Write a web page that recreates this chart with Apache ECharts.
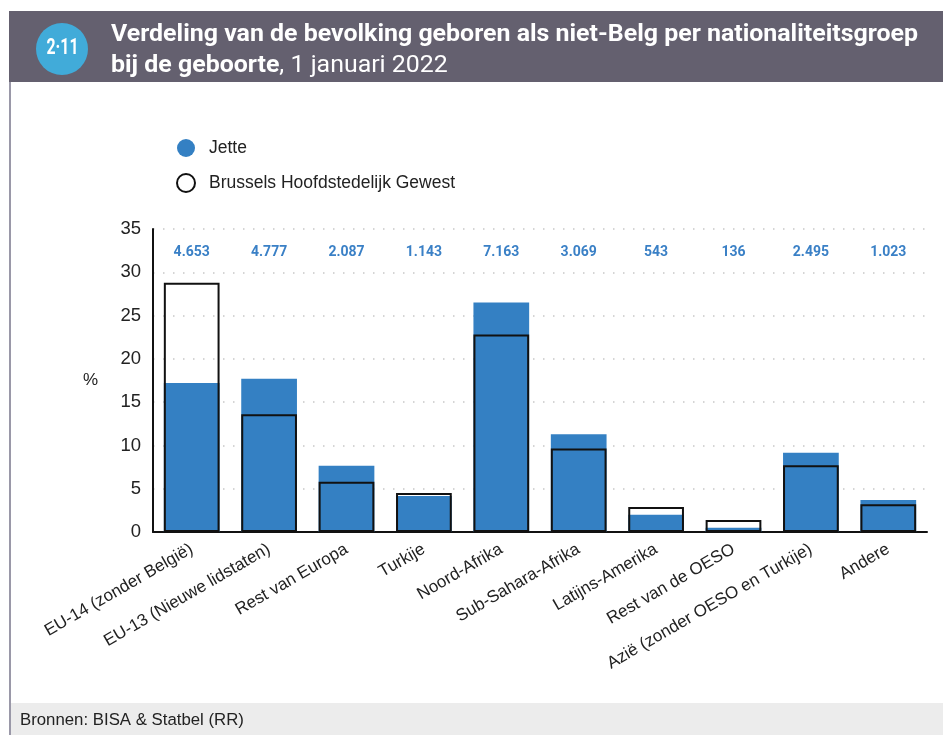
<!DOCTYPE html>
<html><head><meta charset="utf-8">
<script src="https://cdn.jsdelivr.net/npm/echarts@6/dist/echarts.min.js"></script>
<style>html,body{margin:0;padding:0;background:#fff}#c{width:943px;height:735px}</style>
</head><body><div id="c"></div>
<script>
const categories = ['EU-14 (zonder België)', 'EU-13 (Nieuwe lidstaten)', 'Rest van Europa', 'Turkije', 'Noord-Afrika', 'Sub-Sahara-Afrika', 'Latijns-Amerika', 'Rest van de OESO', 'Azië (zonder OESO en Turkije)', 'Andere'];
const jette = [17.2, 17.7, 7.65, 4.15, 26.5, 11.3, 2.0, 0.5, 9.15, 3.7];
const brussels = [28.8, 13.6, 5.8, 4.5, 22.8, 9.65, 2.9, 1.4, 7.7, 3.2];
const jetteCounts = ['4.653', '4.777', '2.087', '1.143', '7.163', '3.069', '543', '136', '2.495', '1.023'];

const titleFont = 'Roboto, "Liberation Sans", sans-serif';
const sans = '"Liberation Sans", Arial, sans-serif';
const blue = '#3480c3';

const mctx = document.createElement('canvas').getContext('2d');
function textWidth(text, font) {
  mctx.font = font;
  return mctx.measureText(text).width;
}
const titleLine1 = 'Verdeling van de bevolking geboren als niet-Belg per nationaliteitsgroep';
const titleScale = 807 / textWidth(titleLine1, 'bold 24px ' + titleFont);
const badgeScale = Math.min(1, 32 / textWidth('2·11', 'bold 22px ' + titleFont));

const chart = echarts.init(document.getElementById('c'), null, {renderer: 'canvas'});
chart.setOption({
  animation: false,
  backgroundColor: '#fff',
  graphic: [
    {type: 'rect', shape: {x: 9, y: 11, width: 934, height: 71}, style: {fill: '#64606f'}, z: -1},
    {type: 'line', shape: {x1: 10, y1: 82, x2: 10, y2: 735}, style: {stroke: '#9a98a8', lineWidth: 2}},
    {type: 'rect', shape: {x: 11, y: 703, width: 932, height: 32}, style: {fill: '#ececec'}},
    {type: 'text', left: 20, top: 712, style: {text: 'Bronnen: BISA & Statbel (RR)', font: '16.8px ' + sans, fill: '#222'}},
    {type: 'circle', shape: {cx: 62, cy: 49, r: 26}, style: {fill: '#41abd9'}},
    {type: 'text', x: 62.5, y: 48.5, scaleX: badgeScale, style: {text: '2·11', font: 'bold 22px ' + titleFont, fill: '#fff', align: 'center', verticalAlign: 'middle'}},
    {type: 'text', x: 111, y: 35, scaleX: titleScale, style: {text: titleLine1, font: 'bold 24px ' + titleFont, fill: '#fff', align: 'left', verticalAlign: 'middle'}},
    {type: 'text', x: 111, y: 65.5, scaleX: titleScale, style: {
      text: '{b|bij de geboorte}{n|, 1 januari 2022}', align: 'left', verticalAlign: 'middle',
      rich: {
        b: {fontFamily: titleFont, fontWeight: 'bold', fontSize: 24, fill: '#fff', color: '#fff'},
        n: {fontFamily: titleFont, fontWeight: 'normal', fontSize: 24, fill: '#fff', color: '#fff'}
      }
    }}
  ],
  legend: {
    orient: 'vertical', left: 176, top: 139, itemGap: 16, padding: 0,
    itemWidth: 18, itemHeight: 18, icon: 'circle',
    textStyle: {fontFamily: sans, fontSize: 17.5, color: '#222', padding: [0, 0, 0, 9]},
    data: [
      {name: 'Jette'},
      {name: 'Brussels Hoofdstedelijk Gewest', itemStyle: {color: 'rgba(0,0,0,0)', borderColor: '#111', borderWidth: 2}}
    ]
  },
  grid: {left: 153, right: 16, top: 229, bottom: 203, containLabel: false},
  xAxis: [
    {
      type: 'category', data: categories,
      axisLine: {lineStyle: {color: '#111', width: 2}},
      axisTick: {show: false},
      axisLabel: {interval: 0, rotate: 30, fontFamily: sans, fontSize: 17, color: '#222', margin: 16}
    },
    {
      type: 'category', data: jetteCounts, position: 'top',
      axisLine: {show: false}, axisTick: {show: false},
      axisLabel: {interval: 0, inside: true, margin: 16, fontFamily: titleFont, fontWeight: 'bold', fontSize: 14, color: '#3a80c6'}
    }
  ],
  yAxis: {
    type: 'value', min: 0, max: 35, interval: 5,
    name: '%', nameLocation: 'middle', nameRotate: 0, nameGap: 55,
    nameTextStyle: {fontFamily: sans, fontSize: 17, color: '#222'},
    axisLine: {show: true, lineStyle: {color: '#111', width: 2}},
    axisTick: {show: false},
    axisLabel: {fontFamily: sans, fontSize: 18.5, color: '#222', margin: 12},
    splitLine: {lineStyle: {color: '#c8c8c8', type: [1.5, 8.5], width: 1.5}}
  },
  series: [
    {
      name: 'Jette', type: 'bar', data: jette, barWidth: '72%', barGap: '-100%',
      itemStyle: {color: blue}
    },
    {
      name: 'Brussels Hoofdstedelijk Gewest', type: 'bar', data: brussels, barWidth: '72%', barGap: '-100%',
      itemStyle: {color: 'rgba(0,0,0,0)', borderColor: '#111', borderWidth: 2}, z: 3
    }
  ]
});
</script></body></html>
